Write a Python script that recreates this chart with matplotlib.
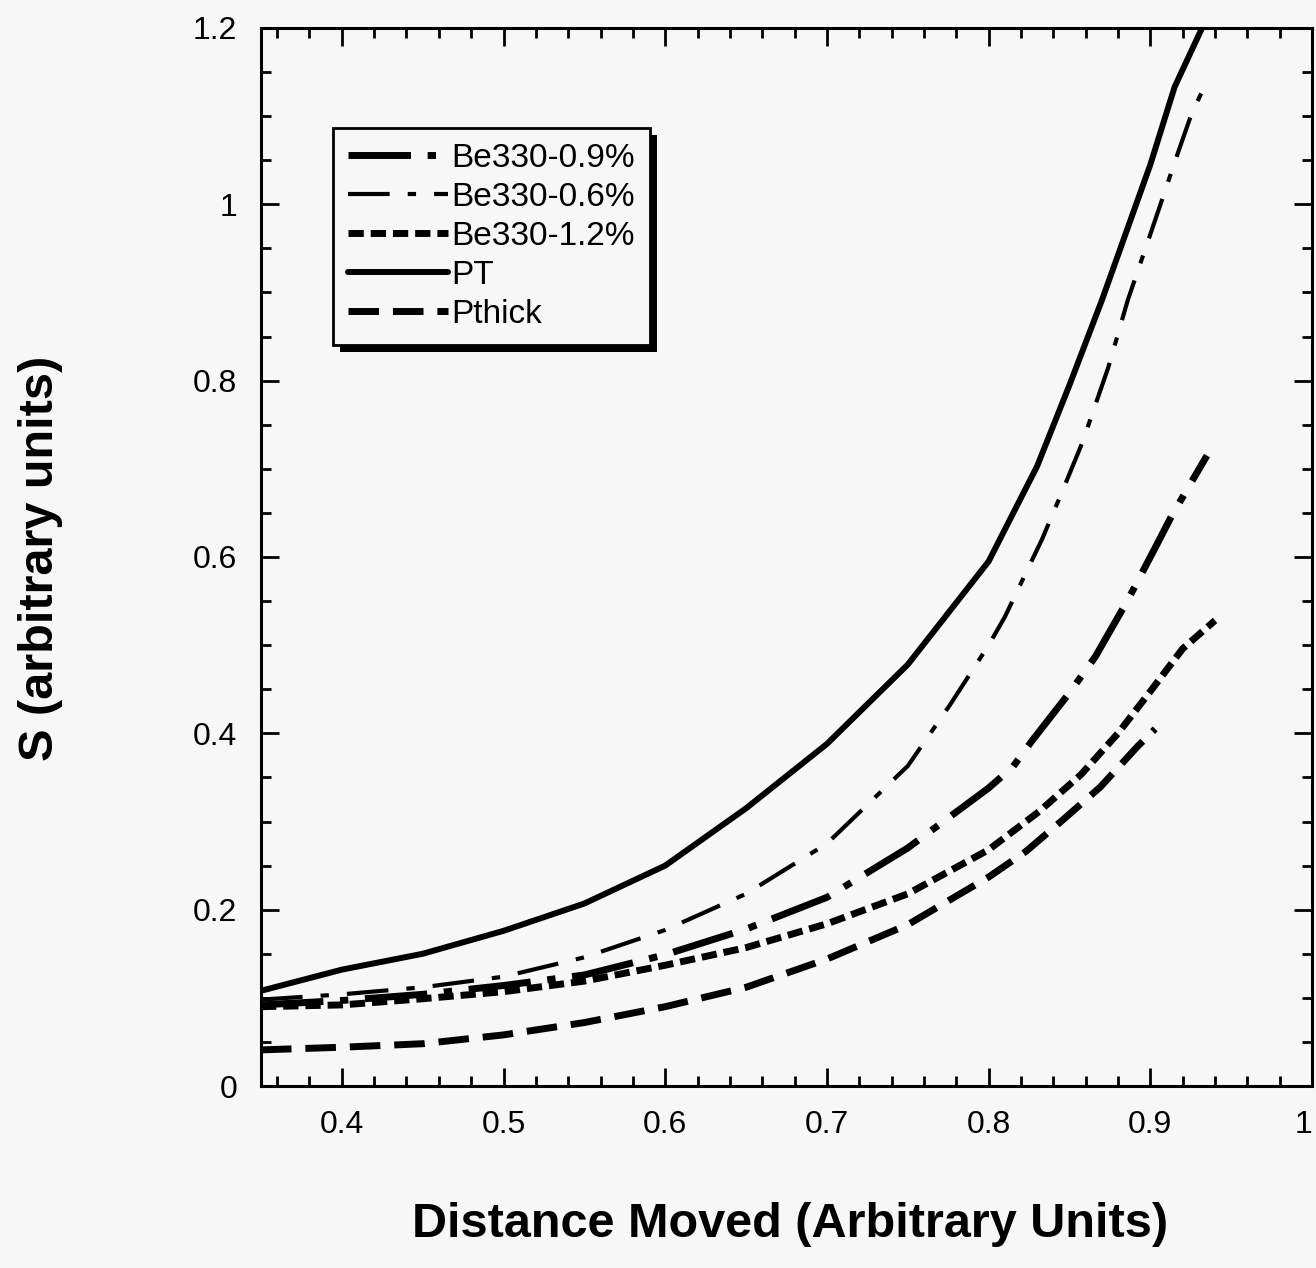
import matplotlib
matplotlib.use("Agg")
import matplotlib.pyplot as plt
from matplotlib.ticker import MultipleLocator, FuncFormatter
from matplotlib.patches import Rectangle

plt.rcParams['font.family'] = ['Liberation Sans', 'DejaVu Sans']
plt.rcParams['lines.scale_dashes'] = False

# ---- data ----
x_pt = [0.35, 0.40, 0.45, 0.50, 0.55, 0.60, 0.65, 0.70, 0.75, 0.80, 0.83, 0.85, 0.87, 0.90, 0.915, 0.932]
y_pt = [0.108, 0.132, 0.150, 0.176, 0.207, 0.250, 0.315, 0.388, 0.478, 0.595, 0.703, 0.795, 0.891, 1.045, 1.133, 1.200]

x_06 = [0.35, 0.40, 0.45, 0.50, 0.55, 0.60, 0.65, 0.70, 0.75, 0.776, 0.80, 0.81, 0.833, 0.845, 0.858, 0.874, 0.886, 0.90, 0.917, 0.925, 0.935]
y_06 = [0.098, 0.104, 0.112, 0.124, 0.146, 0.177, 0.218, 0.275, 0.363, 0.432, 0.500, 0.532, 0.620, 0.672, 0.730, 0.815, 0.891, 0.966, 1.058, 1.100, 1.140]

x_09 = [0.35, 0.40, 0.45, 0.50, 0.55, 0.60, 0.65, 0.70, 0.75, 0.80, 0.815, 0.827, 0.85, 0.866, 0.876, 0.886, 0.904, 0.913, 0.935]
y_09 = [0.092, 0.097, 0.104, 0.114, 0.126, 0.149, 0.178, 0.214, 0.270, 0.338, 0.362, 0.392, 0.446, 0.487, 0.519, 0.551, 0.614, 0.646, 0.715]

x_12 = [0.35, 0.40, 0.45, 0.50, 0.55, 0.60, 0.65, 0.70, 0.75, 0.80, 0.831, 0.857, 0.880, 0.901, 0.920, 0.940]
y_12 = [0.090, 0.092, 0.099, 0.107, 0.119, 0.137, 0.157, 0.184, 0.218, 0.268, 0.311, 0.353, 0.400, 0.450, 0.496, 0.528]

x_pth = [0.35, 0.40, 0.45, 0.50, 0.55, 0.60, 0.65, 0.70, 0.75, 0.80, 0.823, 0.846, 0.869, 0.892, 0.903]
y_pth = [0.041, 0.044, 0.048, 0.058, 0.072, 0.090, 0.112, 0.144, 0.183, 0.237, 0.266, 0.302, 0.339, 0.385, 0.405]

labels = ['Be330-0.9%', 'Be330-0.6%', 'Be330-1.2%', 'PT', 'Pthick']
x_ticks = [0.4, 0.5, 0.6, 0.7, 0.8, 0.9, 1.0]
y_ticks = [0, 0.2, 0.4, 0.6, 0.8, 1.0, 1.2]

bg = '#f7f7f7'
fig = plt.figure(figsize=(13.16, 12.68), dpi=100, facecolor=bg)
ax = fig.add_axes([0.1983, 0.1435, 0.7987, 0.8345], facecolor=bg)

ax.plot(x_09, y_09, color='black', lw=5, dashes=(45, 12, 6, 12), label=labels[0])
ax.plot(x_06, y_06, color='black', lw=3, dashes=(30, 13, 6, 13), label=labels[1])
ax.plot(x_12, y_12, color='black', lw=5, dashes=(11, 5), label=labels[2])
ax.plot(x_pt, y_pt, color='black', lw=4.3, solid_capstyle='round',
        solid_joinstyle='round', label=labels[3])
ax.plot(x_pth, y_pth, color='black', lw=5, dashes=(22, 10), label=labels[4])

ax.set_xlim(0.35, 1.0)
ax.set_ylim(0, 1.2)
ax.set_xticks(x_ticks)
ax.set_yticks(y_ticks)
ax.xaxis.set_minor_locator(MultipleLocator(0.02))
ax.yaxis.set_minor_locator(MultipleLocator(0.05))
fmt = FuncFormatter(lambda v, p: '%g' % round(v, 3))
ax.xaxis.set_major_formatter(fmt)
ax.yaxis.set_major_formatter(fmt)

ax.tick_params(which='both', direction='in', top=True, right=True, width=2, color='black')
ax.tick_params(which='major', length=13, labelsize=23, pad=17)
ax.tick_params(which='minor', length=7)
for s in ax.spines.values():
    s.set_linewidth(2.2)

fig.text(0.6, 0.034, 'Distance Moved (Arbitrary Units)', ha='center', va='center',
         fontsize=35, fontweight='bold')
fig.text(0.031, 0.56, 'S (arbitrary units)', ha='center', va='center',
         rotation=90, fontsize=35, fontweight='bold')

leg = ax.legend(loc='upper left', bbox_to_anchor=(0.0685, 0.9055), borderaxespad=0,
                fontsize=24, handlelength=3.0, handletextpad=0.1, labelspacing=0.24,
                borderpad=0.45, fancybox=False, framealpha=1, facecolor=bg,
                edgecolor='black')
leg.get_frame().set_linewidth(2)
leg.set_zorder(10)

fig.canvas.draw()
# keep the right-most tick label "1" inside the figure
xl = ax.get_xticklabels()
xl[-1].set_horizontalalignment('right')
bb = leg.get_window_extent()
inv = ax.transAxes.inverted()
(x0, y0), (x1, y1) = inv.transform([(bb.x0 + 7, bb.y0 - 7), (bb.x1 + 7, bb.y1 - 7)])
shadow = Rectangle((x0, y0), x1 - x0, y1 - y0, transform=ax.transAxes,
                   facecolor='black', edgecolor='none', zorder=9, clip_on=False)
ax.add_patch(shadow)

fig.savefig('out.png', dpi=100, facecolor=bg)
